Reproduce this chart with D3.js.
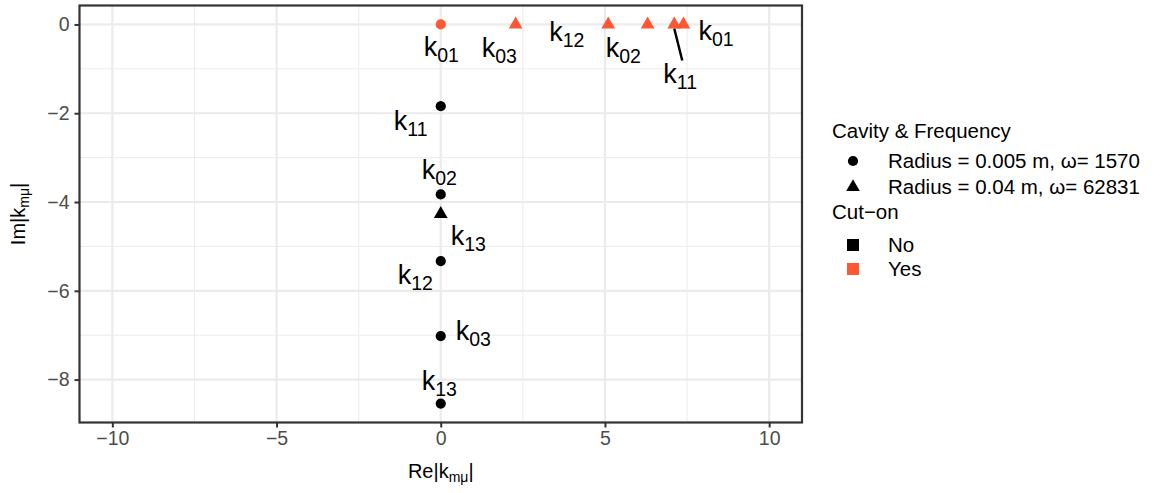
<!DOCTYPE html>
<html>
<head>
<meta charset="utf-8">
<script src="https://cdn.jsdelivr.net/npm/d3@7"></script>
<style>
body { margin:0; background:#fff; }
text { font-family: "Liberation Sans", Arial, sans-serif; }
</style>
</head>
<body>
<svg id="myGraph" width="1156" height="493"></svg>
<script>
// modes (subscript of k) and values for both cavities
var modes = ["01","11","02","12","03","13"];
var reSmall = [0, 0, 0, 0, 0, 0];                 // Radius = 0.005 m
var imSmall = [0, -1.84, -3.83, -5.33, -7.02, -8.54];
var cutSmall = ["Yes","No","No","No","No","No"];
var reLarge = [7.39, 7.11, 6.30, 5.10, 2.28, 0];   // Radius = 0.04 m
var imLarge = [0, 0, 0, 0, 0, -4.27];
var cutLarge = ["Yes","Yes","Yes","Yes","Yes","No"];
var cavityNames = ["Radius = 0.005 m, \u03c9= 1570", "Radius = 0.04 m, \u03c9= 62831"];
var cutNames = ["No","Yes"];
var xTicks = [-10,-5,0,5,10];
var yTicks = [0,-2,-4,-6,-8];

// label placement (pixels from the point), like ggrepel did
var nudgeSmall = [[-17,32],[-47,24],[-19,-15],[-43,23],[15,4],[-19,-14]];
var nudgeLarge = [[15,16],[-11,59],[-42,33],[-59,17],[-34,33],[10,31]];

(function(){
var svg = d3.select("#myGraph");
var pLeft = 79.5, pRight = 802, pTop = 5.5, pBottom = 422.5;
var cutColor = d3.scaleOrdinal().domain(cutNames).range(["#000000","#FF5733"]);

var rows = [];
modes.forEach(function(m,i){
	rows.push({mode:m, re:reSmall[i], im:imSmall[i], cut:cutSmall[i], cav:0, nudge:nudgeSmall[i]});
});
modes.forEach(function(m,i){
	rows.push({mode:m, re:reLarge[i], im:imLarge[i], cut:cutLarge[i], cav:1, nudge:nudgeLarge[i]});
});

var yMin = d3.min(rows, function(d){ return d.im; }), yMax = d3.max(rows, function(d){ return d.im; });
var yPad = (yMax - yMin) * 0.05;
var x = d3.scaleLinear().domain([-11, 11]).range([pLeft, pRight]);
var y = d3.scaleLinear().domain([yMin - yPad, yMax + yPad]).range([pBottom, pTop]);

// grid
var g = svg.append("g");
[-7.5,-2.5,2.5,7.5].forEach(function(v){
	g.append("line").attr("x1",x(v)).attr("x2",x(v)).attr("y1",pTop).attr("y2",pBottom)
	 .attr("stroke","#EBEBEB").attr("stroke-width",1);
});
[-1,-3,-5,-7].forEach(function(v){
	g.append("line").attr("x1",pLeft).attr("x2",pRight).attr("y1",y(v)).attr("y2",y(v))
	 .attr("stroke","#EBEBEB").attr("stroke-width",1);
});
xTicks.forEach(function(v){
	g.append("line").attr("x1",x(v)).attr("x2",x(v)).attr("y1",pTop).attr("y2",pBottom)
	 .attr("stroke","#EBEBEB").attr("stroke-width",2.2);
});
yTicks.forEach(function(v){
	g.append("line").attr("x1",pLeft).attr("x2",pRight).attr("y1",y(v)).attr("y2",y(v))
	 .attr("stroke","#EBEBEB").attr("stroke-width",2.2);
});

// axes
var xAxis = d3.axisBottom(x).tickValues(xTicks).tickSize(5).tickPadding(4);
var yAxis = d3.axisLeft(y).tickValues(yTicks).tickSize(5).tickPadding(5);
var gx = svg.append("g").attr("transform","translate(0,"+pBottom+")").call(xAxis);
var gy = svg.append("g").attr("transform","translate("+pLeft+",0)").call(yAxis);
[gx,gy].forEach(function(a){
	a.select(".domain").remove();
	a.selectAll(".tick line").attr("stroke","#333333").attr("stroke-width",2);
	a.selectAll(".tick text").attr("fill","#4D4D4D").style("font-size","19.5px")
	 .style("font-family","Liberation Sans, Arial, sans-serif");
});

// connector segment for the one label that was pushed away
var seg = rows[7];
svg.append("line")
	.attr("x1", x(seg.re)).attr("y1", y(seg.im) + 4)
	.attr("x2", x(seg.re) + 8).attr("y2", y(seg.im) + 36)
	.attr("stroke","#000").attr("stroke-width",2.5);

// points
var shapes = [d3.symbolCircle, d3.symbolTriangle];
svg.append("g").selectAll("path").data(rows).enter().append("path")
	.attr("d", function(d){ return d3.symbol().type(shapes[d.cav]).size(d.cav ? 82 : 82)(); })
	.attr("transform", function(d){ return "translate("+x(d.re)+","+y(d.im)+")"; })
	.attr("fill", function(d){ return cutColor(d.cut); });

// labels k_{mode}
var lab = svg.append("g").selectAll("text").data(rows).enter().append("text")
	.attr("x", function(d){ return x(d.re) + d.nudge[0]; })
	.attr("y", function(d){ return y(d.im) + d.nudge[1]; })
	.attr("fill","#000").style("font-size","27px");
lab.append("tspan").text("k");
lab.append("tspan").attr("dy",6).style("font-size","19.5px").text(function(d){ return d.mode; });

// panel border
svg.append("rect").attr("x",pLeft).attr("y",pTop).attr("width",pRight-pLeft).attr("height",pBottom-pTop)
	.attr("fill","none").attr("stroke","#333333").attr("stroke-width",2.2);

// axis titles
var xt = svg.append("text").attr("x",(pLeft+pRight)/2).attr("y",478).attr("text-anchor","middle").style("font-size","20px");
xt.append("tspan").text("Re|k");
xt.append("tspan").attr("dy",4).style("font-size","14px").text("m\u03bc");
xt.append("tspan").attr("dy",-4).text("|");
var yt = svg.append("text").attr("transform","translate(25,"+((pTop+pBottom)/2)+") rotate(-90)")
	.attr("text-anchor","middle").style("font-size","20px");
yt.append("tspan").text("Im|k");
yt.append("tspan").attr("dy",4).style("font-size","14px").text("m\u03bc");
yt.append("tspan").attr("dy",-4).text("|");

// legend
var lg = svg.append("g");
lg.append("text").attr("x",832).attr("y",138).style("font-size","20.5px").text("Cavity & Frequency");
cavityNames.forEach(function(n,i){
	lg.append("path").attr("d", d3.symbol().type(shapes[i]).size(i ? 80 : 82)())
	  .attr("transform","translate(853,"+(161+26*i)+")").attr("fill","#000");
	lg.append("text").attr("x",888).attr("y",168+26*i).style("font-size","20.5px").text(n);
});
lg.append("text").attr("x",832).attr("y",219).style("font-size","20.5px").text("Cut\u2212on");
cutNames.forEach(function(n,i){
	lg.append("rect").attr("x",847).attr("y",239+24*i).attr("width",12).attr("height",12)
	  .attr("fill",cutColor(n));
	lg.append("text").attr("x",888).attr("y",252+24*i).style("font-size","20.5px").text(n);
});
})();
</script>
</body>
</html>
